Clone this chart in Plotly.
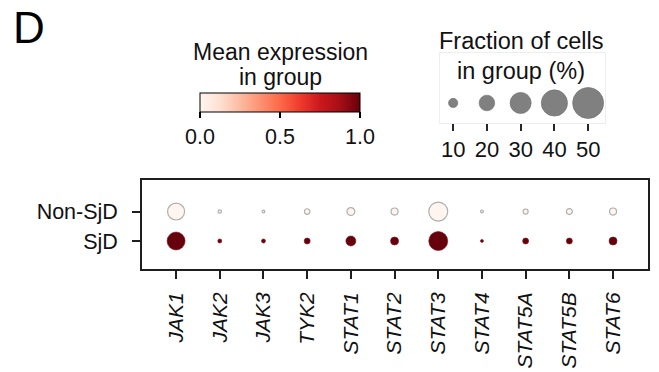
import plotly.graph_objects as go

# ---- data ----
genes = ["JAK1", "JAK2", "JAK3", "TYK2", "STAT1", "STAT2", "STAT3", "STAT4", "STAT5A", "STAT5B", "STAT6"]
groups = ["Non-SjD", "SjD"]
frac_non_sjd = [22.4, 2.6, 2.0, 5.0, 8.0, 6.9, 26.0, 2.0, 4.4, 5.6, 6.9]   # fraction of cells (%)
frac_sjd = [24.2, 3.3, 3.3, 5.6, 11.0, 8.2, 26.0, 2.2, 5.6, 5.6, 8.2]
mean_non_sjd = [0.0, 0.0, 0.0, 0.0, 0.0, 0.0, 0.0, 0.0, 0.0, 0.0, 0.0]     # scaled mean expression
mean_sjd = [1.0, 1.0, 1.0, 1.0, 1.0, 1.0, 1.0, 1.0, 1.0, 1.0, 1.0]
legend_fracs = [10, 20, 30, 40, 50]
legend_labels = ["10", "20", "30", "40", "50"]
cbar_ticks = [0.0, 0.5, 1.0]
cbar_labels = ["0.0", "0.5", "1.0"]

W, H = 659, 372
FONT = "Liberation Sans, Arial, Helvetica, sans-serif"
reds = [[0.0, "rgb(255,245,240)"], [0.125, "rgb(254,224,210)"], [0.25, "rgb(252,187,161)"],
        [0.375, "rgb(252,146,114)"], [0.5, "rgb(251,106,74)"], [0.625, "rgb(239,59,44)"],
        [0.75, "rgb(203,24,29)"], [0.875, "rgb(165,15,21)"], [1.0, "rgb(103,0,13)"]]


def dot_size(f):
    # size scale: diameter grows with fraction ** 0.75 (area ~ fraction ** 1.5)
    return 1.65 * f ** 0.75


def px(xp):
    return xp / W


def py(yp):
    return 1 - yp / H


gene_idx = list(range(len(genes)))
fig = go.Figure()

fig.add_trace(go.Scatter(
    x=gene_idx, y=[groups[0]] * len(genes), mode="markers",
    marker=dict(size=[dot_size(f) for f in frac_non_sjd], color=mean_non_sjd, coloraxis="coloraxis",
                opacity=1, line=dict(color="rgb(175,175,175)", width=1.2)),
    showlegend=False, hoverinfo="skip"))
fig.add_trace(go.Scatter(
    x=gene_idx, y=[groups[1]] * len(genes), mode="markers",
    marker=dict(size=[dot_size(f) for f in frac_sjd], color=mean_sjd, coloraxis="coloraxis",
                opacity=1, line=dict(color="rgb(120,20,25)", width=0.6)),
    showlegend=False, hoverinfo="skip"))

# size legend
fig.add_trace(go.Scatter(
    x=list(range(len(legend_fracs))), y=[0] * len(legend_fracs), mode="markers",
    marker=dict(size=[dot_size(f) for f in legend_fracs], color="rgb(128,128,128)", opacity=1,
                line=dict(color="rgb(110,110,110)", width=0.6)),
    xaxis="x2", yaxis="y2", showlegend=False, hoverinfo="skip"))

axis_common = dict(showgrid=False, zeroline=False, showline=True, mirror=True,
                   linecolor="rgb(30,30,30)", linewidth=1.6, ticks="outside", ticklen=8,
                   tickwidth=1.6, tickcolor="rgb(30,30,30)")

fig.update_layout(
    width=W, height=H, margin=dict(l=0, r=0, t=0, b=0),
    paper_bgcolor="white", plot_bgcolor="white",
    font=dict(family=FONT, color="#111"),
    xaxis=dict(domain=[px(142), px(648)], range=[-0.78, 10.8], tickmode="array",
               tickvals=gene_idx, ticktext=["<i>" + g + "</i>" for g in genes],
               tickangle=-90, ticklabelstandoff=5, anchor="y",
               tickfont=dict(family=FONT, size=21, color="#111"), **axis_common),
    yaxis=dict(domain=[py(269), py(180)], type="category", categoryorder="array",
               categoryarray=[groups[1], groups[0]], range=[-0.95, 2.07],
               ticklabelstandoff=10, anchor="x",
               tickfont=dict(family=FONT, size=21.5, color="#111"), **axis_common),
    xaxis2=dict(domain=[px(440), px(605)], range=[-0.39, 4.5], anchor="y2",
                tickmode="array", tickvals=list(range(len(legend_fracs))), ticktext=legend_labels,
                showgrid=False, zeroline=False, showline=True, mirror=True,
                linecolor="rgb(238,238,238)", linewidth=1, ticks="outside", ticklen=7,
                tickwidth=1.5, tickcolor="rgb(40,40,40)", ticklabelstandoff=0,
                tickfont=dict(family=FONT, size=22, color="#111")),
    yaxis2=dict(domain=[py(123), py(53)], range=[-0.286, 0.714], anchor="x2",
                showgrid=False, zeroline=False, showticklabels=False, showline=True,
                mirror=True, linecolor="rgb(238,238,238)", linewidth=1),
    coloraxis=dict(
        colorscale=reds, cmin=0, cmax=1,
        colorbar=dict(orientation="h", x=px(280), xanchor="center", y=py(93), yanchor="top",
                      len=160, lenmode="pixels", thickness=19, thicknessmode="pixels",
                      outlinewidth=1, outlinecolor="black", xpad=0, ypad=0,
                      tickmode="array", tickvals=cbar_ticks, ticktext=cbar_labels,
                      ticks="outside", ticklen=6, tickwidth=1.5, tickcolor="black",
                      tickfont=dict(family=FONT, size=21.5, color="#111"))),
    annotations=[
        dict(text="D", x=px(11), y=py(27), xref="paper", yref="paper", xanchor="left",
             yanchor="middle", showarrow=False,
             font=dict(family=FONT, size=44, color="black")),
        dict(text="Mean expression", x=px(280), y=py(52), xref="paper", yref="paper",
             showarrow=False, xanchor="center", yanchor="middle", font=dict(family=FONT, size=23)),
        dict(text="in group", x=px(280), y=py(77), xref="paper", yref="paper",
             showarrow=False, xanchor="center", yanchor="middle", font=dict(family=FONT, size=23)),
        dict(text="Fraction of cells", x=px(521), y=py(41), xref="paper", yref="paper",
             showarrow=False, xanchor="center", yanchor="middle", font=dict(family=FONT, size=23.5)),
        dict(text="in group (%)", x=px(521), y=py(71), xref="paper", yref="paper",
             showarrow=False, xanchor="center", yanchor="middle", font=dict(family=FONT, size=23.5)),
    ],
)

# remove the browser's default 8px body margin so the figure fills the window exactly
fig.write_html("out.html", config={"displayModeBar": False},
               post_script="document.body.style.margin='0';document.body.style.overflow='hidden';")
